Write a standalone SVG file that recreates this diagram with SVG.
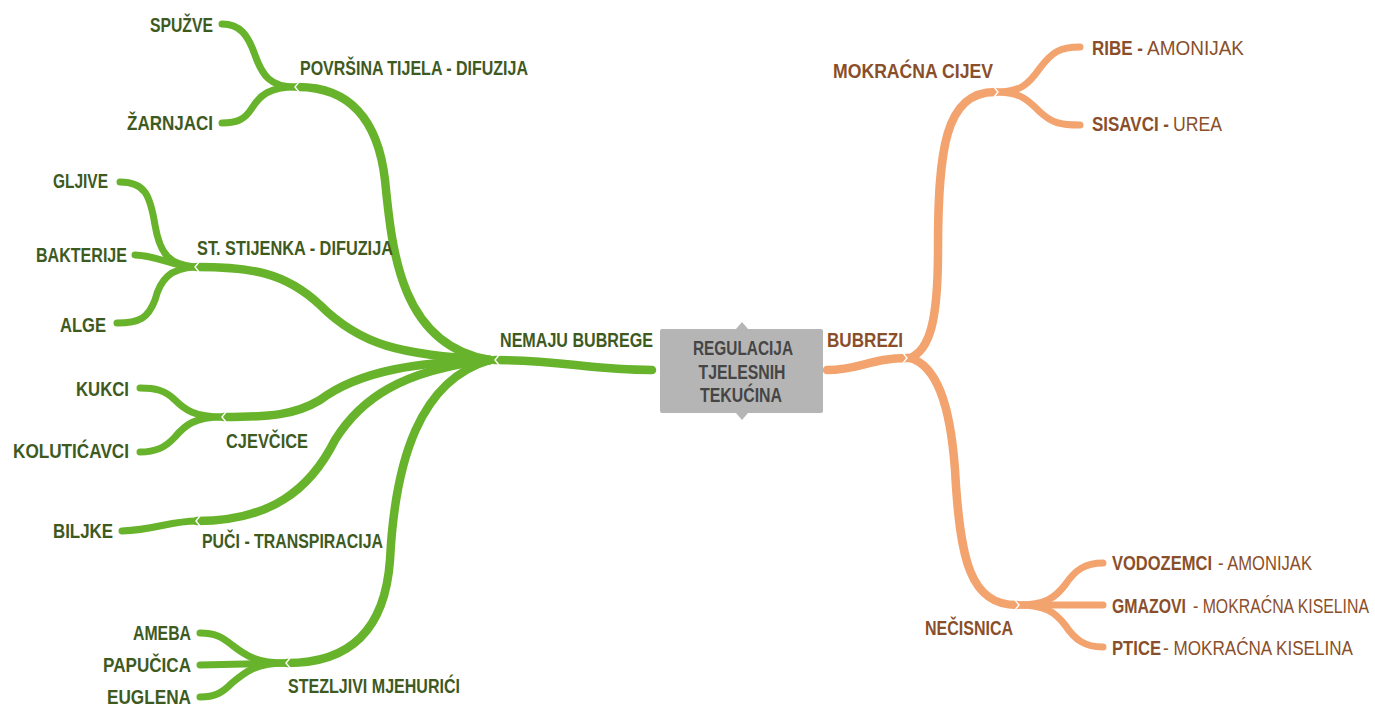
<svg xmlns="http://www.w3.org/2000/svg" width="1375" height="706" viewBox="0 0 1375 706">
<style>
text{font-family:"Liberation Sans",Arial,sans-serif;font-size:20px;font-weight:bold}
.g{fill:#3e5a1f}
.o{fill:#8a4f2a}
.c{fill:#454545;text-anchor:middle}
.e{text-anchor:end}
.n{font-weight:normal}
.gl{fill:none;stroke:#68b32c;stroke-linecap:round}
.ol{fill:none;stroke:#f2a36e;stroke-linecap:round}
.m{stroke-width:8.5}
.l{stroke-width:7}
.ch{fill:none;stroke:#ffffff;stroke-width:1.4}
</style>
<rect width="1375" height="706" fill="#ffffff"/>
<g id="connectors">
<path class="gl m" d="M652 370 C590 370 560 360 495 360"/>
<path class="gl m" d="M490 360 C400 345 392 250 385 180 C378 120 350 87 298 87"/>
<path class="gl m" d="M490 360 C400 355 360 345 320 305 C285 272 250 267 197 267"/>
<path class="gl m" d="M490 360 C420 362 360 370 320 400 C295 415 270 417 224 417"/>
<path class="gl m" d="M490 360 C400 370 360 400 335 440 C310 490 270 521 197 521"/>
<path class="gl m" d="M490 360 C420 380 395 460 390 560 C385 630 350 663 287 663"/>
<path class="gl l" d="M295 87 C270 87 262 75 255 55 C248 35 240 24 222 24"/>
<path class="gl l" d="M295 87 C270 87 260 95 252 108 C245 119 238 123 222 123"/>
<path class="gl l" d="M195 267 C170 265 160 255 155 225 C150 195 145 182 120 182"/>
<path class="gl l" d="M195 267 C170 266 160 256 135 255"/>
<path class="gl l" d="M195 267 C170 268 160 280 155 300 C148 318 140 323 117 323"/>
<path class="gl l" d="M222 417 C195 417 185 410 175 400 C165 390 155 388 140 388"/>
<path class="gl l" d="M222 417 C195 417 185 425 175 437 C165 448 155 452 140 452"/>
<path class="gl l" d="M197 521 C170 521 155 530 122 531"/>
<path class="gl l" d="M287 663 C255 663 245 655 232 645 C222 637 215 633 200 633"/>
<path class="gl l" d="M287 663 L200 665"/>
<path class="gl l" d="M287 663 C255 663 245 672 232 683 C222 693 215 697 200 697"/>
<path class="ol m" d="M827 370 C860 370 870 358 908 358"/>
<path class="ol m" d="M910 358 C930 350 938 320 938 250 C938 150 945 92 995 92"/>
<path class="ol m" d="M910 358 C935 365 950 400 955 470 C960 560 970 605 1017 605"/>
<path class="ol l" d="M997 92 C1020 92 1028 85 1040 68 C1052 52 1060 47 1080 47"/>
<path class="ol l" d="M997 92 C1020 92 1028 100 1040 112 C1052 123 1060 125 1080 125"/>
<path class="ol l" d="M1019 605 C1045 605 1055 598 1065 585 C1075 570 1085 563 1103 563"/>
<path class="ol l" d="M1019 605 L1103 605"/>
<path class="ol l" d="M1019 605 C1045 605 1055 612 1065 625 C1075 640 1085 647 1103 647"/>
<polyline class="ch" points="499,355 495,360 499,365"/>
<polyline class="ch" points="299,82 295,87 299,92"/>
<polyline class="ch" points="199,262 195,267 199,272"/>
<polyline class="ch" points="226,412 222,417 226,422"/>
<polyline class="ch" points="200,516 196,521 200,526"/>
<polyline class="ch" points="290,658 286,663 290,668"/>
<polyline class="ch" points="903,353 907,358 903,363"/>
<polyline class="ch" points="994,87 998,92 994,97"/>
<polyline class="ch" points="1015,600 1019,605 1015,610"/>
</g>
<g id="center">
<rect x="660" y="329" width="163" height="84" rx="2" fill="#b5b5b5"/>
<polygon points="742,322 736,329 748,329" fill="#b5b5b5"/>
<polygon points="742,420 736,413 748,413" fill="#b5b5b5"/>
<text class="c" x="743" y="355" textLength="100" lengthAdjust="spacingAndGlyphs">REGULACIJA</text>
<text class="c" x="742" y="379" textLength="87" lengthAdjust="spacingAndGlyphs">TJELESNIH</text>
<text class="c" x="741" y="402" textLength="82" lengthAdjust="spacingAndGlyphs">TEKUĆINA</text>
</g>
<g id="n-nemaju"><text class="g" x="500" y="347" textLength="153" lengthAdjust="spacingAndGlyphs">NEMAJU BUBREGE</text></g>
<g id="n-povrsina"><text class="g" x="300" y="75" textLength="228" lengthAdjust="spacingAndGlyphs">POVRŠINA TIJELA - DIFUZIJA</text></g>
<g id="n-spuzve"><text class="g e" x="213" y="32" textLength="63" lengthAdjust="spacingAndGlyphs">SPUŽVE</text></g>
<g id="n-zarnjaci"><text class="g e" x="213" y="130" textLength="86" lengthAdjust="spacingAndGlyphs">ŽARNJACI</text></g>
<g id="n-stijenka"><text class="g" x="197" y="255" textLength="196" lengthAdjust="spacingAndGlyphs">ST. STIJENKA - DIFUZIJA</text></g>
<g id="n-gljive"><text class="g e" x="108" y="188" textLength="55" lengthAdjust="spacingAndGlyphs">GLJIVE</text></g>
<g id="n-bakterije"><text class="g e" x="127" y="262" textLength="91" lengthAdjust="spacingAndGlyphs">BAKTERIJE</text></g>
<g id="n-alge"><text class="g e" x="106" y="332" textLength="46" lengthAdjust="spacingAndGlyphs">ALGE</text></g>
<g id="n-cjevcice"><text class="g" x="226" y="448" textLength="82" lengthAdjust="spacingAndGlyphs">CJEVČICE</text></g>
<g id="n-kukci"><text class="g e" x="129" y="396" textLength="53" lengthAdjust="spacingAndGlyphs">KUKCI</text></g>
<g id="n-koluticavci"><text class="g e" x="129" y="458" textLength="116" lengthAdjust="spacingAndGlyphs">KOLUTIĆAVCI</text></g>
<g id="n-puci"><text class="g" x="202" y="548" textLength="181" lengthAdjust="spacingAndGlyphs">PUČI - TRANSPIRACIJA</text></g>
<g id="n-biljke"><text class="g e" x="113" y="538" textLength="60" lengthAdjust="spacingAndGlyphs">BILJKE</text></g>
<g id="n-stezljivi"><text class="g" x="288" y="693" textLength="172" lengthAdjust="spacingAndGlyphs">STEZLJIVI MJEHURIĆI</text></g>
<g id="n-ameba"><text class="g e" x="191" y="640" textLength="58" lengthAdjust="spacingAndGlyphs">AMEBA</text></g>
<g id="n-papucica"><text class="g e" x="191" y="672" textLength="88" lengthAdjust="spacingAndGlyphs">PAPUČICA</text></g>
<g id="n-euglena"><text class="g e" x="191" y="704" textLength="84" lengthAdjust="spacingAndGlyphs">EUGLENA</text></g>
<g id="n-bubrezi"><text class="o" x="827" y="347" textLength="76" lengthAdjust="spacingAndGlyphs">BUBREZI</text></g>
<g id="n-mokracna"><text class="o" x="833" y="78" textLength="160" lengthAdjust="spacingAndGlyphs">MOKRAĆNA CIJEV</text></g>
<g id="n-ribe">
<text class="o" x="1092" y="55" textLength="51" lengthAdjust="spacingAndGlyphs">RIBE -</text>
<text class="o n" x="1147" y="55" textLength="97" lengthAdjust="spacingAndGlyphs">AMONIJAK</text>
</g>
<g id="n-sisavci">
<text class="o" x="1092" y="131" textLength="77" lengthAdjust="spacingAndGlyphs">SISAVCI -</text>
<text class="o n" x="1173" y="131" textLength="49" lengthAdjust="spacingAndGlyphs">UREA</text>
</g>
<g id="n-necisnica"><text class="o" x="925" y="635" textLength="88" lengthAdjust="spacingAndGlyphs">NEČISNICA</text></g>
<g id="n-vodozemci">
<text class="o" x="1112" y="570" textLength="100" lengthAdjust="spacingAndGlyphs">VODOZEMCI</text>
<text class="o n" x="1218" y="570" textLength="94" lengthAdjust="spacingAndGlyphs">- AMONIJAK</text>
</g>
<g id="n-gmazovi">
<text class="o" x="1112" y="613" textLength="74" lengthAdjust="spacingAndGlyphs">GMAZOVI</text>
<text class="o n" x="1193" y="613" textLength="176" lengthAdjust="spacingAndGlyphs">- MOKRAĆNA KISELINA</text>
</g>
<g id="n-ptice">
<text class="o" x="1112" y="655" textLength="49" lengthAdjust="spacingAndGlyphs">PTICE</text>
<text class="o n" x="1163" y="655" textLength="190" lengthAdjust="spacingAndGlyphs">- MOKRAĆNA KISELINA</text>
</g>
</svg>
